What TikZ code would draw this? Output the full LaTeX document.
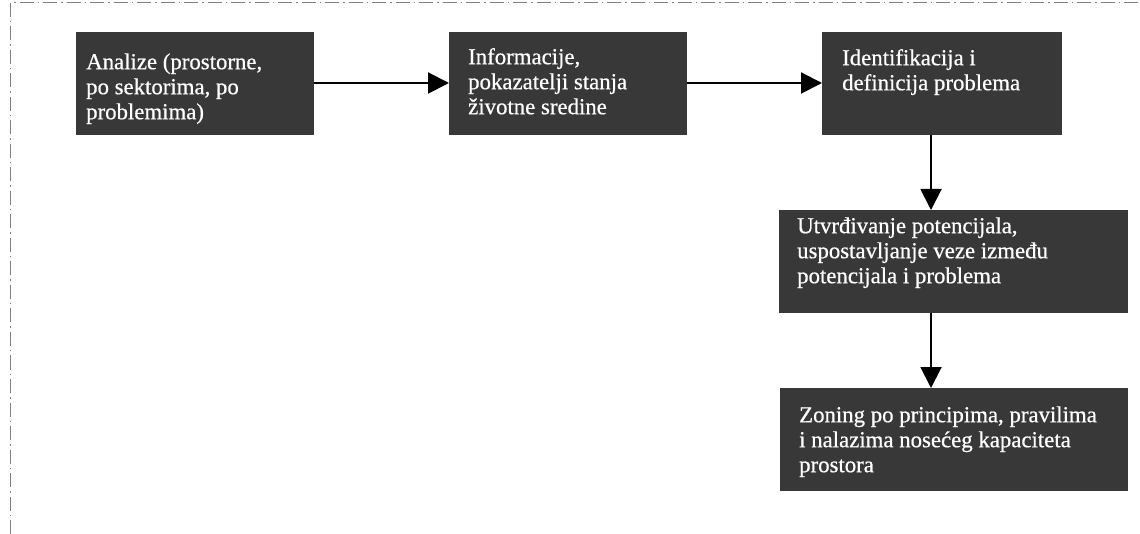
\documentclass[tikz,border=0pt]{standalone}
\usepackage{fontspec}
\setmainfont{Liberation Serif}[FakeBold=0.6]
\usetikzlibrary{arrows.meta}
\definecolor{boxgray}{HTML}{383838}
\definecolor{framegray}{HTML}{808080}
\begin{document}
\begin{tikzpicture}[x=1pt,y=-1pt,
  stepbox/.style={draw=none,fill=boxgray,anchor=north west,inner sep=0pt},
  boxtext/.style={anchor=north west,inner sep=0pt,align=left,text=white,
    font=\fontsize{22.8}{25}\selectfont},
  flow/.style={line width=2pt,-{Triangle[length=21pt,width=21pt]}},
  frameline/.style={draw=framegray,line width=1pt,
    dash pattern=on 14pt off 4pt on 1.5pt off 4pt}]
\useasboundingbox (0,0) rectangle (1140,534);
% frame
\coordinate (ftl) at (10,3);
\coordinate (ftr) at (1140,3);
\coordinate (fbl) at (10,534);
\draw[frameline] (fbl) -- (ftl) -- (ftr);
% boxes
\node[stepbox,minimum width=238pt,minimum height=103pt] (b1) at (76,32) {};
\node[stepbox,minimum width=238pt,minimum height=103pt] (b2) at (449,32) {};
\node[stepbox,minimum width=240pt,minimum height=103pt] (b3) at (822,32) {};
\node[stepbox,minimum width=349pt,minimum height=103pt] (b4) at (779,210) {};
\node[stepbox,minimum width=348pt,minimum height=103pt] (b5) at (780,388) {};
% texts
\node[boxtext] (t1) at ([xshift=10pt,yshift=-19.5pt]b1.north west)
  {\strut Analize (prostorne,\\po sektorima, po\\problemima)};
\node[boxtext] (t2) at ([xshift=19pt,yshift=-14.5pt]b2.north west)
  {\strut Informacije,\\pokazatelji stanja\\životne sredine};
\node[boxtext] (t3) at ([xshift=20pt,yshift=-15.5pt]b3.north west)
  {\strut Identifikacija i\\definicija problema};
\node[boxtext] (t4) at ([xshift=18pt,yshift=-5.5pt]b4.north west)
  {\strut Utvrđivanje potencijala,\\uspostavljanje veze između\\potencijala i problema};
\node[boxtext] (t5) at ([xshift=19pt,yshift=-16.5pt]b5.north west)
  {\strut Zoning po principima, pravilima\\i nalazima nosećeg kapaciteta\\prostora};
% connectors
\draw[flow] ([yshift=-51pt]b1.north east) -- ([yshift=-51pt]b2.north west);
\draw[flow] ([yshift=-51pt]b2.north east) -- ([yshift=-51pt]b3.north west);
\draw[flow] ([xshift=109pt]b3.south west) -- ([xshift=152pt]b4.north west);
\draw[flow] ([xshift=152pt]b4.south west) -- ([xshift=151pt]b5.north west);
\end{tikzpicture}
\end{document}
